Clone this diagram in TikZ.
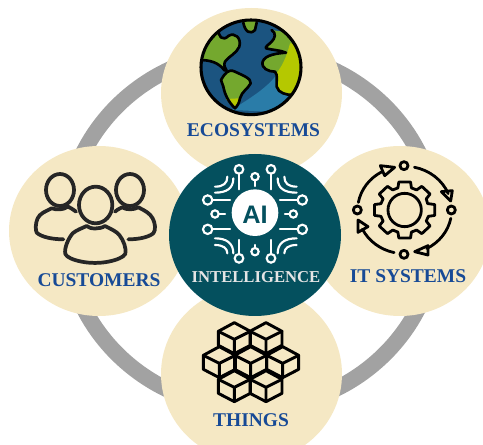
\documentclass[tikz,border=0pt]{standalone}
\usepackage{fontspec}
\setmainfont{Liberation Serif}
\setsansfont{Liberation Sans}
\definecolor{beige}{HTML}{F5E8C4}
\definecolor{ringgray}{HTML}{A2A2A2}
\definecolor{teal}{HTML}{04505E}
\definecolor{labelblue}{HTML}{174A96}
\definecolor{ocean}{HTML}{1B5480}
\definecolor{ocean2}{HTML}{2A7CA8}
\definecolor{land}{HTML}{74A82E}
\definecolor{land2}{HTML}{B5C800}
\tikzset{
 disc/.style={fill=beige,draw=none},
 lab/.style={font=\bfseries\fontsize{14.6}{14.6}\selectfont,text=labelblue,inner sep=0pt},
 ic/.style={draw=black,line width=2.1pt,line join=round,line cap=round},
 ppl/.style={draw=black!85,line width=2.8pt,line join=round,line cap=round},
 wh/.style={draw=white,line width=1.6pt,line cap=round},
 pad/.style={draw=white,line width=1.6pt,fill=teal},
}
\begin{document}
\begin{tikzpicture}[x=0.75pt,y=-0.75pt]
\useasboundingbox (0,0) rectangle (483,445);
\begin{scope}
\clip (0,0) rectangle (483,445);
\draw[ringgray,line width=12pt] (251,230) ellipse (186 and 178.5);
\fill[disc] (251.5,93) ellipse (90.5 and 85);
\fill[disc] (99,231) ellipse (90 and 85);
\fill[disc] (400,231) ellipse (90 and 85);
\fill[disc] (251.5,374) ellipse (90.5 and 88);
\fill[teal] (255,235) ellipse (86 and 81);
\end{scope}
% globe, in crop coordinates
\begin{scope}[shift={(160,0)},x=.25pt,y=-.25pt]
\fill[ocean] (273,202) ellipse (150 and 142);
\begin{scope}
\clip (273,202) ellipse (150 and 142);
\fill[ocean2] (215,330) .. controls (300,275) and (365,240) .. (390,140) -- (440,340) -- cycle;
\fill[land] (120,180) -- (130,140) -- (178,85) .. controls (170,110) and (190,125) .. (205,108) .. controls (225,95) and (245,115) .. (238,140) .. controls (230,160) and (205,170) .. (195,185) .. controls (190,195) and (195,205) .. (200,212) .. controls (180,195) and (165,185) .. (120,180) -- cycle;
\fill[land] (245,60) -- (250,75) .. controls (255,95) and (270,105) .. (285,90) -- (292,60) -- cycle;
\fill[land] (183,240) .. controls (195,220) and (205,205) .. (225,215) .. controls (245,225) and (275,235) .. (272,250) .. controls (265,265) and (245,275) .. (240,295) .. controls (238,310) and (230,320) .. (225,325) .. controls (205,305) and (195,285) .. (190,260) -- cycle;
\fill[land2] (198,297) -- (237,295) .. controls (235,310) and (228,318) .. (222,324) .. controls (212,315) and (205,305) .. (198,297) -- cycle;
\fill[land] (335,90) .. controls (350,100) and (345,115) .. (335,125) .. controls (325,135) and (315,140) .. (318,145) .. controls (335,150) and (360,150) .. (378,158) .. controls (350,160) and (315,165) .. (308,185) .. controls (303,205) and (325,215) .. (345,215) .. controls (355,225) and (348,245) .. (350,260) .. controls (355,280) and (380,285) .. (400,285) -- (440,200) -- (400,100) -- cycle;
\begin{scope}
\clip (390,130) .. controls (380,170) and (365,205) .. (340,230) -- (345,300) -- (440,300) -- (440,130) -- cycle;
\fill[land2] (345,215) .. controls (355,225) and (348,245) .. (350,260) .. controls (355,280) and (380,285) .. (400,285) -- (440,200) -- (400,100) -- (340,100) -- cycle;
\end{scope}
\begin{scope}[ic,line width=2pt]
\draw (178,85) .. controls (170,110) and (190,125) .. (205,108) .. controls (225,95) and (245,115) .. (238,140) .. controls (230,160) and (205,170) .. (195,185) .. controls (190,195) and (195,205) .. (200,212);
\draw (125,180) .. controls (165,182) and (180,195) .. (195,212);
\draw (250,68) .. controls (255,95) and (270,105) .. (285,90) -- (290,68);
\draw (183,240) .. controls (195,220) and (205,205) .. (225,215) .. controls (245,225) and (275,235) .. (272,250) .. controls (265,265) and (245,275) .. (240,295) .. controls (238,310) and (230,320) .. (225,325) .. controls (205,305) and (195,285) .. (190,260) -- cycle;
\draw (335,90) .. controls (350,100) and (345,115) .. (335,125) .. controls (325,135) and (315,140) .. (318,145) .. controls (335,150) and (360,150) .. (378,158) .. controls (350,160) and (315,165) .. (308,185) .. controls (303,205) and (325,215) .. (345,215) .. controls (355,225) and (348,245) .. (350,260) .. controls (355,280) and (380,285) .. (400,285);
\end{scope}
\end{scope}
\draw[ic,line width=2.3pt] (273,202) ellipse (150 and 142);
\end{scope}
\node[lab] (eco) at (253.5,130) {ECOSYSTEMS};
\node[lab] (cust) at (99,280) {CUSTOMERS};
\node[lab] (its) at (408,276) {IT SYSTEMS};
\node[lab] (thi) at (251,420) {THINGS};
\node[lab,text=white!90!black,font=\bfseries\fontsize{12.5}{12.5}\selectfont] (intel) at (256,277.5) {INTELLIGENCE};
% people
\begin{scope}[shift={(0,150)},x=.25pt,y=-.25pt]
\draw[ppl] (180,120) ellipse (42 and 48);
\draw[ppl] (390,120) ellipse (42 and 48);
\draw[ppl] (287,165) ellipse (50 and 55);
\draw[ppl] (228,185) .. controls (215,175) and (208,172) .. (204,170) .. controls (190,180) and (170,180) .. (155,175) .. controls (135,185) and (120,190) .. (113,205) .. controls (106,220) and (106,240) .. (110,248) .. controls (125,262) and (160,268) .. (190,268);
\draw[ppl] (345,185) .. controls (355,177) and (360,175) .. (366,172) .. controls (380,180) and (400,180) .. (415,172) .. controls (435,182) and (450,190) .. (458,205) .. controls (466,220) and (468,240) .. (460,250) .. controls (445,262) and (415,268) .. (385,268);
\draw[ppl] (260,228) .. controls (270,238) and (300,238) .. (315,228) .. controls (335,238) and (350,245) .. (358,255) .. controls (370,270) and (380,295) .. (376,312) .. controls (370,322) and (350,330) .. (325,335) .. controls (300,340) and (270,340) .. (245,335) .. controls (220,330) and (200,322) .. (196,312) .. controls (192,295) and (205,265) .. (218,250) .. controls (230,240) and (245,235) .. (260,228) -- cycle;
\end{scope}
% gear and arrows
\begin{scope}[shift={(323,125)},x=.25pt,y=-.25pt]
\draw[ic] (245,255) ellipse (50 and 50);
\begin{scope}[shift={(245,255)},yscale=.93]
\draw[ic] (-16:72) \foreach \a in {0,45,...,315}{ -- (\a-16:74) -- (\a-11:92) -- (\a+11:92) -- (\a+16:74) } -- cycle;
\foreach \s/\e in {-78/-22,11/62,103/154,190/241}{
 \draw[ic] (\s:141) arc[start angle=\s,end angle=\e,radius=141];
}
\end{scope}
\draw[ic] (243,122) circle (12);
\draw[ic] (243,388) circle (12);
\draw[ic] (103,255) circle (12);
\draw[ic] (385,255) circle (12);
\draw[ic] (172,122) -- (215,127) -- (185,152) -- cycle;
\draw[ic] (355,200) -- (388,197) -- (383,228) -- cycle;
\draw[ic] (275,380) -- (315,362) -- (315,390) -- cycle;
\draw[ic] (105,285) -- (135,305) -- (105,322) -- cycle;
\end{scope}
% cubes
\begin{scope}[shift={(60,280)},x=.25pt,y=-.25pt]
\foreach \cx/\cy in {523/128,618/128,478/200,572/200,668/200,523/272,618/272}{
 \draw[ic,line width=2.2pt] (\cx,\cy) -- (\cx+48,\cy+26) -- (\cx+48,\cy+68) -- (\cx,\cy+93) -- (\cx-48,\cy+68) -- (\cx-48,\cy+26) -- cycle;
 \draw[ic,line width=2.2pt] (\cx-48,\cy+26) -- (\cx,\cy+50) -- (\cx+48,\cy+26) (\cx,\cy+50) -- (\cx,\cy+93);
}
\end{scope}
% AI chip
\begin{scope}[shift={(165,150)},x=.25pt,y=-.25pt]
\fill[white] (270,188) circle (70);
\node[font=\sffamily\bfseries\fontsize{19}{19}\selectfont,text=teal,inner sep=0pt] (ai) at (270,195) {AI};
\foreach \x/\y in {222/72,318/72}{\draw[wh] (\x,\y) -- (\x,118);}
\foreach \x/\y in {222/312,318/312}{\draw[wh] (\x,\y) -- (\x,270);}
\draw[wh] (270,92) -- (270,108);
\draw[wh] (270,285) -- (270,293);
\draw[wh] (142,150) -- (195,150);
\draw[wh] (142,238) -- (195,238);
\draw[wh] (345,150) -- (398,150);
\draw[wh] (345,238) -- (398,238);
\draw[wh] (162,192) -- (180,192);
\draw[wh] (360,192) -- (373,192);
\draw[pad] (222,58) circle (13);
\draw[pad] (318,58) circle (13);
\draw[pad] (270,80) circle (11);
\draw[pad] (222,325) circle (13);
\draw[pad] (318,325) circle (13);
\draw[pad] (270,305) circle (11);
\draw[pad] (128,150) circle (14);
\draw[pad] (128,238) circle (14);
\draw[pad] (412,150) circle (14);
\draw[pad] (412,238) circle (14);
\draw[pad] (150,192) circle (11);
\draw[pad] (385,192) circle (11);
\draw[wh] (205,85) .. controls (205,115) and (185,128) .. (150,128);
\draw[wh] (187,80) .. controls (187,100) and (175,110) .. (150,110);
\draw[wh] (338,85) .. controls (338,115) and (358,128) .. (395,128);
\draw[wh] (358,80) .. controls (358,100) and (370,110) .. (395,110);
\draw[wh] (205,310) .. controls (205,280) and (185,265) .. (150,265);
\draw[wh] (187,310) .. controls (187,295) and (175,285) .. (150,285);
\draw[wh] (338,310) .. controls (338,280) and (358,265) .. (395,265);
\draw[wh] (358,310) .. controls (358,295) and (370,285) .. (395,285);
\end{scope}
\end{tikzpicture}
\end{document}
